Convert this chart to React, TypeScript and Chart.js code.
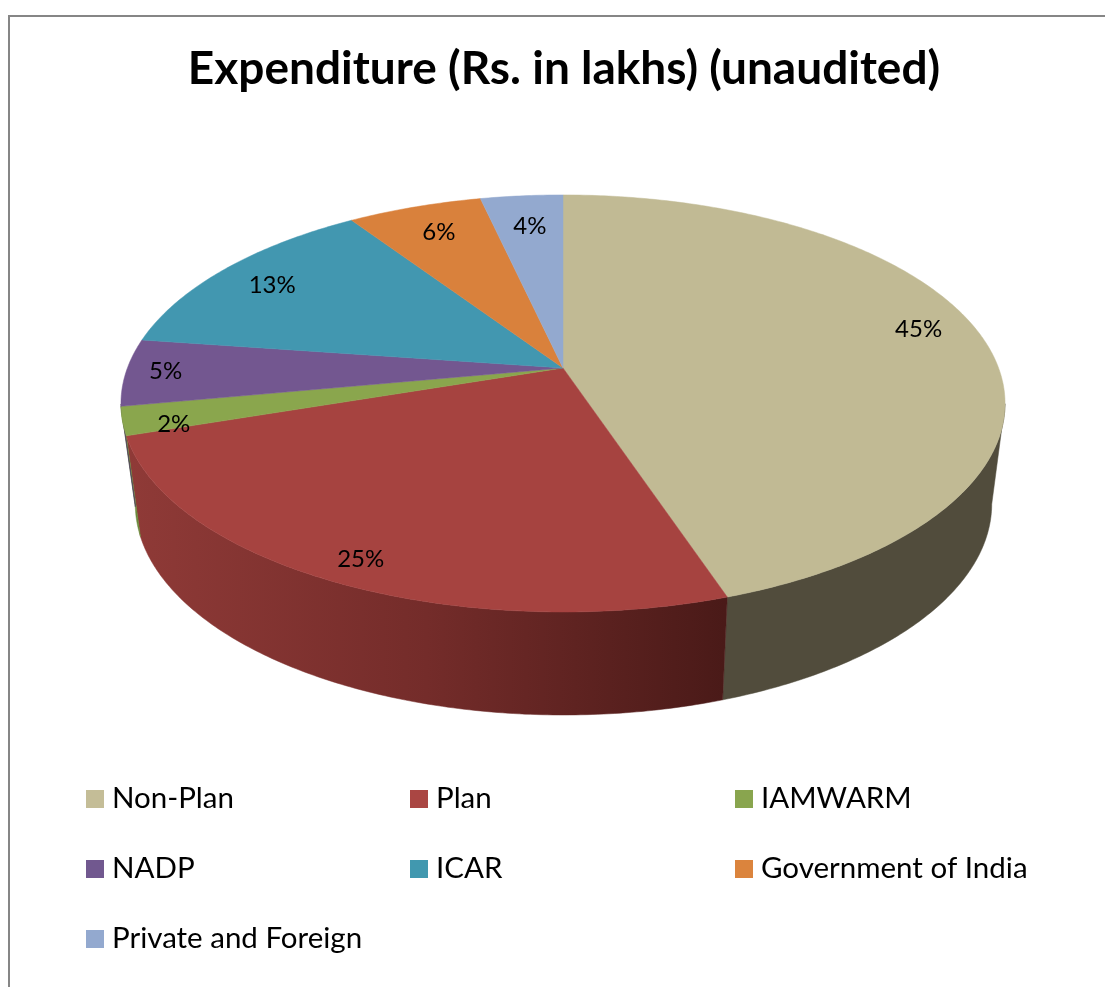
import React, { useEffect, useRef } from "react";
import { Chart, registerables } from "chart.js";

Chart.register(...registerables);

const categories = ["Non-Plan", "Plan", "IAMWARM", "NADP", "ICAR", "Government of India", "Private and Foreign"];
const shares = [44.9, 25.0, 2.2, 5.2, 13.4, 5.8, 3.55];
const sliceColors = ["#c1ba94", "#a64340", "#8aa64d", "#735790", "#4297b0", "#d9813c", "#93a9cf"];
const legendColors = ["#c4bd97", "#aa4643", "#89a54e", "#71588f", "#4198af", "#db843d", "#93a9cf"];
const wallColors = ["#514c3c", "", "#6a8a3a", "#4d3a60", "#2c6676", "#94572a", "#63728c"];
const title = "Expenditure (Rs. in lakhs) (unaudited)";

const FONT = "Lato, Carlito, sans-serif";
// perspective of the tilted disc: top face and the smaller face underneath
const K = -0.17;
const TOP = { cx: 563, cy: 368, rx: 435.6, ry: 202.5 };
const BOTTOM = { cx: 563.5, cy: 468, rx: 422, ry: 205 };
const project = (f: any, a: number, r = 1) => {
  const u = r * Math.cos(a);
  const v = r * Math.sin(a);
  const w = 1 + K * v;
  return { x: f.cx + (f.rx * u) / w, y: f.cy + (f.ry * v) / w, v };
};
const labelNudge = [[19, -13], [-25, 26], [-40, 14], [-48, 0], [-16, -2.5], [-2, -3], [1, 0]];

const sample = (a0: number, a1: number) => {
  const n = Math.max(4, Math.ceil((a1 - a0) * 90));
  const out: number[] = [];
  for (let i = 0; i <= n; i++) out.push(a0 + ((a1 - a0) * i) / n);
  return out;
};

const pie3d = {
  id: "pie3d",
  beforeDraw(chart: any) {
    const { ctx } = chart;
    ctx.save();
    ctx.strokeStyle = "#868686";
    ctx.lineWidth = 2;
    ctx.beginPath();
    ctx.moveTo(9, 987);
    ctx.lineTo(9, 16);
    ctx.lineTo(1105, 16);
    ctx.stroke();
    ctx.restore();
    chart.legend.draw = function () {
      const c = this.ctx;
      c.save();
      this.legendItems.forEach((item: any, i: number) => {
        const col = i % 3;
        const row = Math.floor(i / 3);
        const x = [86, 410, 735][col];
        const y = 790 + row * 70;
        c.fillStyle = legendColors[i];
        c.fillRect(x, y, 18, 18);
        c.fillStyle = "#000";
        c.font = `29.5px ${FONT}`;
        c.textBaseline = "middle";
        c.textAlign = "left";
        c.fillText(item.text, x + 26, y + 8);
      });
      c.restore();
    };
  },
  beforeDatasetsDraw(chart: any) {
    const { ctx } = chart;
    const arcs = chart.getDatasetMeta(0).data;
    const total = shares.reduce((s, v) => s + v, 0);
    ctx.save();
    // side wall: only the part of the rim facing the viewer
    arcs.forEach((arc: any, i: number) => {
      const angles = sample(arc.startAngle, arc.endAngle).filter((a) => Math.sin(a) > -K);
      if (angles.length < 2) return;
      const upper = angles.map((a) => project(TOP, a));
      const lower = angles.map((a) => project(BOTTOM, a));
      let fill: any = wallColors[i];
      if (i === 1) {
        const g = ctx.createLinearGradient(130, 0, 724, 0);
        g.addColorStop(0, "#8f3a37");
        g.addColorStop(0.5, "#742c2a");
        g.addColorStop(1, "#4a1a18");
        fill = g;
      }
      ctx.fillStyle = fill;
      ctx.strokeStyle = fill;
      ctx.lineWidth = 0.5;
      ctx.beginPath();
      upper.forEach((p, j) => (j ? ctx.lineTo(p.x, p.y) : ctx.moveTo(p.x, p.y)));
      lower.reverse().forEach((p) => ctx.lineTo(p.x, p.y));
      ctx.closePath();
      ctx.fill();
      ctx.stroke();
    });
    // top face
    arcs.forEach((arc: any, i: number) => {
      ctx.fillStyle = sliceColors[i];
      ctx.strokeStyle = sliceColors[i];
      ctx.lineWidth = 0.5;
      ctx.beginPath();
      ctx.moveTo(TOP.cx, TOP.cy);
      sample(arc.startAngle, arc.endAngle).forEach((a) => {
        const p = project(TOP, a);
        ctx.lineTo(p.x, p.y);
      });
      ctx.closePath();
      ctx.fill();
      ctx.stroke();
    });
    // percentage labels
    ctx.fillStyle = "#000";
    ctx.font = `24px ${FONT}`;
    ctx.textAlign = "center";
    ctx.textBaseline = "middle";
    arcs.forEach((arc: any, i: number) => {
      const p = project(TOP, (arc.startAngle + arc.endAngle) / 2, 0.8);
      const text = `${Math.round((shares[i] / total) * 100)}%`;
      ctx.fillText(text, p.x + labelNudge[i][0], p.y + labelNudge[i][1]);
    });
    ctx.restore();
    return false;
  },
};

export default function App() {
  const ref = useRef<HTMLCanvasElement>(null);
  useEffect(() => {
    const chart = new Chart(ref.current as HTMLCanvasElement, {
      type: "pie",
      data: {
        labels: categories,
        datasets: [{ data: shares, backgroundColor: sliceColors, borderWidth: 0 }],
      },
      options: {
        responsive: false,
        animation: false,
        devicePixelRatio: 1,
        layout: { padding: { left: 23, top: 24 } },
        plugins: {
          title: {
            display: true,
            text: title,
            color: "#000",
            font: { family: FONT, size: 46, weight: "bold" },
            padding: { top: 18, bottom: 10 },
          },
          legend: {
            display: true,
            position: "bottom",
            labels: { font: { family: FONT, size: 30 }, color: "#000" },
          },
          tooltip: { enabled: false },
        },
      },
      plugins: [pie3d],
    } as any);
    return () => chart.destroy();
  }, []);
  return (
    <canvas
      ref={ref}
      width={1105}
      height={987}
      style={{ position: "absolute", left: 0, top: 0, width: 1105, height: 987, display: "block" }}
    />
  );
}
